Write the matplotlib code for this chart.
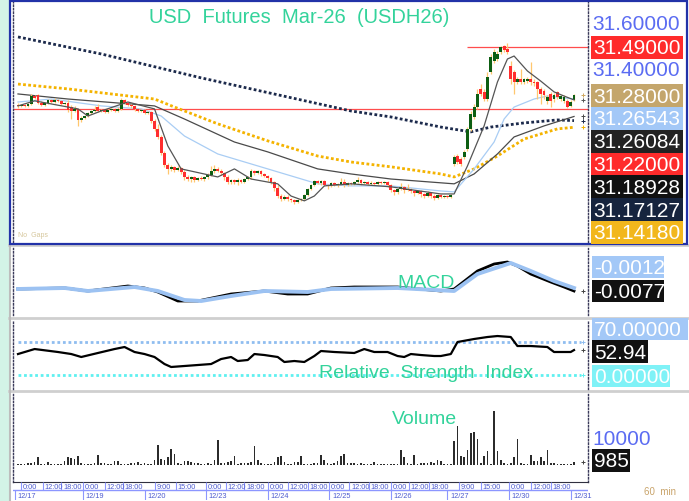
import matplotlib
matplotlib.use("Agg")
import matplotlib.pyplot as plt
from matplotlib.patches import Rectangle
import numpy as np

W, H, DPI = 689, 502, 100

# ---- hourly candles, prices in thousandths above 30.000 ----
opens_k = [1239, 1235, 1239, 1235, 1243, 1278, 1283, 1248, 1239, 1248,
           1261, 1252, 1261, 1257, 1243, 1248, 1230, 1213, 1222, 1174,
           1183, 1191, 1204, 1213, 1230, 1213, 1217, 1209, 1217, 1222,
           1213, 1222, 1261, 1248, 1239, 1235, 1222, 1213, 1217, 1204,
           1209, 1170, 1135, 1100, 1030, 978, 961, 970, 957, 965,
           948, 926, 917, 926, 913, 922, 917, 926, 935, 952,
           961, 952, 943, 926, 904, 913, 904, 913, 904, 917,
           926, 952, 943, 952, 939, 930, 922, 904, 878, 843,
           830, 839, 830, 826, 817, 826, 830, 848, 874, 891,
           909, 900, 909, 891, 887, 900, 891, 896, 904, 891,
           900, 896, 904, 913, 900, 904, 896, 900, 896, 904,
           900, 904, 891, 870, 861, 874, 883, 870, 874, 865,
           857, 865, 852, 843, 857, 843, 835, 848, 839, 843,
           839, 983, 1017, 1004, 1013, 1048, 1135, 1187, 1230, 1309,
           1296, 1265, 1383, 1430, 1439, 1470, 1496, 1483, 1409, 1383,
           1339, 1352, 1339, 1343, 1352, 1339, 1339, 1309, 1300, 1257,
           1287, 1265, 1296, 1265, 1257, 1257, 1235, 1261]
closes_k = [1235, 1239, 1235, 1243, 1278, 1270, 1248, 1239, 1248, 1261,
            1252, 1261, 1257, 1243, 1248, 1217, 1213, 1222, 1174, 1183,
            1191, 1204, 1213, 1217, 1213, 1217, 1209, 1217, 1222, 1213,
            1222, 1261, 1248, 1239, 1235, 1222, 1213, 1217, 1204, 1209,
            1170, 1135, 1100, 1030, 978, 961, 970, 957, 965, 948,
            926, 917, 926, 913, 922, 917, 926, 935, 952, 961,
            952, 943, 926, 904, 913, 904, 913, 904, 917, 926,
            952, 943, 952, 939, 930, 922, 904, 878, 843, 830,
            839, 830, 826, 817, 826, 830, 848, 874, 891, 909,
            900, 909, 891, 887, 900, 891, 896, 904, 891, 900,
            896, 904, 913, 900, 904, 896, 900, 896, 904, 900,
            904, 891, 870, 861, 874, 883, 870, 874, 865, 857,
            865, 852, 843, 857, 843, 835, 848, 839, 843, 839,
            848, 1013, 991, 983, 1035, 1135, 1200, 1230, 1287, 1287,
            1265, 1361, 1448, 1470, 1461, 1491, 1478, 1470, 1352, 1339,
            1352, 1339, 1352, 1352, 1339, 1335, 1309, 1287, 1283, 1274,
            1257, 1283, 1274, 1278, 1274, 1230, 1252, 1283]
highs_k = [1248, 1243, 1243, 1248, 1287, 1283, 1287, 1257, 1252, 1265,
           1265, 1270, 1265, 1261, 1252, 1261, 1239, 1235, 1226, 1191,
           1196, 1209, 1217, 1235, 1243, 1222, 1222, 1226, 1226, 1226,
           1230, 1270, 1265, 1252, 1243, 1239, 1226, 1222, 1222, 1213,
           1213, 1178, 1157, 1109, 1039, 987, 978, 974, 974, 970,
           957, 935, 930, 930, 926, 930, 930, 943, 974, 978,
           970, 961, 948, 935, 917, 917, 922, 917, 922, 930,
           961, 957, 957, 957, 943, 935, 926, 909, 891, 852,
           848, 848, 835, 830, 830, 835, 852, 878, 896, 913,
           913, 913, 913, 896, 904, 904, 900, 922, 917, 904,
           904, 909, 926, 917, 909, 909, 909, 904, 909, 909,
           909, 909, 896, 874, 878, 900, 887, 896, 878, 870,
           870, 870, 857, 865, 861, 852, 852, 852, 848, 848,
           852, 1022, 1026, 1013, 1043, 1143, 1213, 1243, 1309, 1330,
           1309, 1383, 1461, 1483, 1474, 1496, 1500, 1509, 1430, 1391,
           1361, 1396, 1357, 1361, 1426, 1352, 1343, 1317, 1309, 1283,
           1296, 1291, 1300, 1283, 1283, 1265, 1261, 1287]
lows_k = [1226, 1230, 1230, 1230, 1239, 1265, 1243, 1235, 1235, 1243,
          1248, 1248, 1252, 1239, 1239, 1209, 1178, 1209, 1148, 1165,
          1178, 1187, 1200, 1209, 1209, 1209, 1204, 1204, 1213, 1209,
          1209, 1217, 1243, 1235, 1226, 1213, 1209, 1209, 1200, 1200,
          1161, 1126, 1091, 1022, 970, 939, 952, 948, 952, 939,
          913, 909, 904, 904, 909, 913, 909, 917, 930, 943,
          948, 935, 913, 896, 896, 896, 891, 900, 900, 913,
          917, 935, 939, 930, 926, 909, 896, 865, 835, 822,
          826, 822, 817, 809, 813, 822, 826, 843, 870, 887,
          896, 891, 887, 874, 883, 887, 883, 891, 883, 887,
          891, 891, 900, 891, 896, 891, 891, 891, 891, 896,
          896, 883, 861, 848, 852, 870, 857, 865, 857, 843,
          852, 839, 835, 839, 835, 826, 830, 835, 835, 835,
          835, 974, 983, 974, 1004, 1039, 1126, 1178, 1222, 1278,
          1257, 1257, 1374, 1422, 1430, 1461, 1470, 1461, 1330, 1287,
          1330, 1330, 1330, 1335, 1326, 1322, 1265, 1243, 1265, 1243,
          1230, 1252, 1265, 1257, 1248, 1226, 1230, 1257]

volumes = [345, 345, 345, 575, 690, 920, 2645, 345, 345, 1035,
           460, 460, 345, 345, 1265, 2645, 2300, 2070, 3220, 575,
           345, 345, 345, 690, 3450, 575, 575, 345, 460, 1265,
           1265, 345, 345, 345, 805, 575, 920, 345, 575, 345,
           345, 1840, 6900, 2070, 1725, 2645, 5405, 3795, 575, 345,
           1495, 1495, 920, 575, 575, 345, 345, 575, 345, 1840,
           8625, 690, 690, 920, 1495, 3220, 345, 690, 690, 575,
           920, 6440, 1840, 690, 345, 345, 345, 920, 2645, 3220,
           920, 345, 345, 1150, 920, 2990, 345, 345, 345, 690,
           690, 3450, 1840, 690, 345, 690, 1495, 3220, 3795, 690,
           690, 690, 345, 690, 345, 345, 345, 1150, 345, 345,
           345, 345, 345, 345, 345, 5175, 2645, 690, 345, 3450,
           345, 690, 690, 690, 1150, 690, 1840, 1265, 345, 345,
           345, 8400, 13340, 3220, 2645, 5175, 11040, 11500, 8970, 690,
           3220, 4945, 345, 18745, 4715, 1840, 690, 345, 690, 2875,
           8970, 690, 345, 345, 3450, 1265, 1495, 2875, 1495, 5290,
           690, 690, 345, 345, 345, 345, 345, 985]

# ---- moving averages read at bar positions ----
ma_long_idx = [0, 25, 55, 85, 100, 112, 127, 136, 142, 152, 162, 167]
ma_long = [31.535, 31.461, 31.357, 31.261, 31.213, 31.187, 31.143, 31.122,
           31.143, 31.161, 31.174, 31.171]
ma_gold_idx = [0, 15, 41, 47, 60, 75, 90, 100, 112, 127, 131, 137, 144, 152, 162, 167]
ma_gold = [31.330, 31.309, 31.265, 31.230, 31.157, 31.083, 31.017, 30.991,
           30.970, 30.939, 30.926, 30.961, 31.017, 31.091, 31.135, 31.142]
ma_mid_idx = [0, 15, 41, 50, 65, 75, 90, 100, 112, 131, 137, 144, 149, 158, 167]
ma_mid = [31.287, 31.265, 31.235, 31.178, 31.078, 31.035, 30.961, 30.939,
          30.917, 30.896, 30.939, 31.026, 31.100, 31.148, 31.189]
ma_blue_idx = [0, 10, 25, 37, 43, 50, 60, 75, 90, 100, 112, 127, 131, 137,
               143, 146, 149, 155, 159, 167]
ma_blue = [31.252, 31.265, 31.235, 31.222, 31.191, 31.104, 31.026, 30.961,
           30.896, 30.887, 30.887, 30.865, 30.861, 30.961, 31.078, 31.178,
           31.230, 31.265, 31.278, 31.265]
ma_fast_idx = [0, 5, 18, 21, 25, 33, 41, 45, 49, 60, 65, 70, 78, 82, 86, 89,
               92, 100, 112, 127, 131, 135, 140, 144, 147, 149, 153, 157, 161,
               164, 167]
ma_fast = [31.235, 31.257, 31.222, 31.191, 31.213, 31.252, 31.222, 31.061,
           30.961, 30.926, 30.961, 30.917, 30.896, 30.843, 30.822, 30.843,
           30.887, 30.896, 30.883, 30.852, 30.852, 30.974, 31.148, 31.339,
           31.439, 31.452, 31.387, 31.343, 31.296, 31.278, 31.261]

support_level = 31.22
high_level = 31.49

macd_idx = [0, 14, 21, 33, 38, 42, 48, 54, 64, 74, 81, 87, 94, 101, 114, 127,
            131, 138, 143, 147, 150, 154, 160, 164, 167]
macd = [-0.0057, -0.0047, -0.0077, -0.0027, -0.0047, -0.0087, -0.0177, -0.0177,
        -0.0107, -0.0077, -0.0107, -0.0107, -0.0047, -0.0037, -0.0037, -0.0077,
        -0.0057, 0.0123, 0.0193, 0.0213, 0.0173, 0.0093, 0.0013, -0.0037, -0.0077]
signal_idx = [0, 14, 21, 35, 42, 50, 55, 64, 74, 87, 94, 114, 131, 138, 148, 154, 161, 167]
signal = [-0.0057, -0.0047, -0.0077, -0.0037, -0.0077, -0.0167, -0.0177, -0.0127,
          -0.0077, -0.0087, -0.0057, -0.0047, -0.0077, 0.0093, 0.0203, 0.0123,
          0.0023, -0.0047]

rsi_idx = [0, 5, 12, 16, 19, 24, 29, 32, 35, 38, 41, 44, 46, 50, 54, 58, 61, 64,
           66, 69, 71, 74, 78, 80, 83, 86, 89, 91, 95, 101, 104, 107, 111, 114,
           116, 118, 121, 125, 127, 130, 132, 137, 141, 144, 148, 150, 154, 159,
           161, 164, 166, 167]
rsi = [44.5, 55.1, 48.8, 44.5, 38.2, 46.7, 55.1, 59.4, 48.8, 44.5, 38.2, 23.3,
       17.0, 19.1, 21.2, 23.3, 33.9, 38.2, 29.7, 31.8, 44.5, 42.4, 38.2, 27.6,
       29.7, 27.6, 40.3, 50.9, 48.8, 46.7, 55.1, 48.8, 48.8, 40.3, 38.2, 44.5,
       42.4, 40.3, 40.3, 44.5, 70.0, 76.4, 80.6, 82.7, 80.6, 61.5, 61.5, 59.4,
       48.8, 48.8, 48.8, 52.9]
rsi_upper, rsi_lower = 70.0, 0.0

hour_pos = [1, 7.5, 13, 19.5, 26, 31.5, 41, 47.5, 56.5, 62.5, 68, 75, 81, 87,
            93.5, 99.5, 105.5, 112, 117.5, 123.5, 132.5, 139, 147.5, 154, 160]
hour_labels = ["0:00", "12:00", "18:00", "0:00", "12:00", "18:00", "9:00", "15:00",
               "0:00", "12:00", "18:00", "0:00", "12:00", "18:00", "0:00", "12:00",
               "18:00", "0:00", "12:00", "18:00", "9:00", "15:00", "0:00", "12:00",
               "18:00"]
date_pos = [-1, 19.5, 38, 56.5, 75, 93.5, 112, 129, 147.5, 166]
date_labels = ["12/17", "12/19", "12/20", "12/23", "12/24", "12/25", "12/26",
               "12/27", "12/30", "12/31"]

price_labels = ["31.49000", "31.28000", "31.26543", "31.26084", "31.22000",
                "31.18928", "31.17127", "31.14180"]
price_label_bg = ["#ff2b2b", "#c4a66c", "#a3c8f7", "#222222", "#ff2b2b",
                  "#111111", "#16243e", "#f2b71c"]

# ---- colours ----
GREEN, RED, WICK = "#0d5e12", "#ff2e2e", "#ffc76e"
TEAL = "#33d39b"
BLUE_TXT = "#5b6cf2"
AXIS = "#3a3a5a"

opens = 30 + np.array(opens_k) / 1000
closes = 30 + np.array(closes_k) / 1000
highs = 30 + np.array(highs_k) / 1000
lows = 30 + np.array(lows_k) / 1000
idx = np.arange(len(closes))
XLIM = (-1.5, 171.2)

plt.rcParams["font.family"] = ["Liberation Sans", "DejaVu Sans"]
fig = plt.figure(figsize=(W / DPI, H / DPI), dpi=DPI)
fig.patch.set_facecolor("white")


def px_axes(left, top, right, bottom, **kw):
    return fig.add_axes([left / W, 1 - bottom / H, (right - left) / W,
                         (bottom - top) / H], **kw)


def style(ax):
    ax.set_xlim(*XLIM)
    ax.set_xticks([])
    for s in ("top", "bottom"):
        ax.spines[s].set_visible(False)
    for s in ("left", "right"):
        ax.spines[s].set_color(AXIS)
        ax.spines[s].set_linestyle((0, (1, 1.5)))
        ax.spines[s].set_linewidth(1.0)
    ax.yaxis.tick_right()
    ax.tick_params(axis="y", length=0, pad=3, labelsize=15, labelcolor=BLUE_TXT)


def end_marks(a, values, colors):
    # small "+" markers the platform draws at the right edge
    a.scatter([169.8] * len(values), values, marker="+", s=9, lw=0.7,
              c=colors, zorder=6, clip_on=False)


# background decoration
deco = fig.add_axes([0, 0, 1, 1], zorder=-5)
deco.set_xlim(0, W)
deco.set_ylim(H, 0)
deco.axis("off")
deco.add_patch(Rectangle((0, 0), 9, H, color="#d3f3e7", lw=0))
for yy in (246, 318.5, 392):
    deco.plot([9, W], [yy, yy], color="#cfcfcf", lw=2)
deco.plot([10, 10], [246, H], color="#bdbdbd", lw=1.5)

# ---- price panel ----
ax = px_axes(13, 3, 588, 243)
style(ax)
ax.set_ylim(30.643, 31.687)
ax.set_yticks([31.6, 31.4])
ax.set_yticklabels(["31.60000", "31.40000"])
ax.plot(ma_long_idx, ma_long, color="#1c2a4c", lw=2.0, ls=(0, (1, 0.85)), zorder=2)
ax.plot(ma_gold_idx, ma_gold, color="#f4b300", lw=2.0, ls=(0, (1, 0.85)), zorder=2)
ax.plot(ma_mid_idx, ma_mid, color="#4a4a4a", lw=0.9, zorder=2)
ax.plot(ma_blue_idx, ma_blue, color="#a9cdf4", lw=0.9, zorder=2)
ax.plot(ma_fast_idx, ma_fast, color="#555555", lw=0.9, zorder=5)
ax.axhline(support_level, color="#ff4d4d", lw=0.9, zorder=1)
ax.hlines(high_level, 135, XLIM[1], color="#ff4d4d", lw=0.9, zorder=1)
ax.vlines(idx, lows, highs, color=WICK, lw=0.9, zorder=3)
body = closes - opens
body = np.where(np.abs(body) < 0.003, np.where(body >= 0, 0.003, -0.003), body)
ax.bar(idx, body, bottom=opens, width=0.85, lw=0,
       color=np.where(closes >= opens, GREEN, RED), zorder=4)
end_marks(ax, [closes[-1], ma_fast[-1], ma_long[-1], ma_mid[-1], ma_gold[-1]],
          ["#d0a860", "#555555", "#1c2a4c", "#4a4a4a", "#f4b300"])
ax.text(0.497, 0.94, "USD  Futures  Mar-26  (USDH26)", transform=ax.transAxes,
        ha="center", va="center", fontsize=14.5, color=TEAL)
ax.text(0.009, 0.018, "No  Gaps", transform=ax.transAxes, fontsize=5,
        color="#d6c79c", va="bottom")

# ---- MACD panel ----
axm = px_axes(13, 249, 588, 316)
style(axm)
axm.set_ylim(-0.0317, 0.0353)
axm.set_yticks([])
axm.plot(macd_idx, macd, color="black", lw=2.0, zorder=2)
axm.plot(signal_idx, signal, color="#9cc2f2", lw=2.8, zorder=3)
end_marks(axm, [macd[-1]], ["#444444"])
axm.text(0.718, 0.49, "MACD", transform=axm.transAxes, ha="center", va="center",
         fontsize=14, color=TEAL, zorder=4)

# ---- RSI panel ----
axr = px_axes(13, 321, 588, 390)
style(axr)
axr.set_ylim(-29.7, 116.7)
axr.set_yticks([])
axr.plot([0, 169], [rsi_upper] * 2, color="#8fbdf0", lw=2.0, ls=(0, (1, 1)))
axr.plot([0, 169], [rsi_lower] * 2, color="#5ff0f0", lw=2.0, ls=(0, (1, 1)))
axr.plot(rsi_idx, rsi, color="black", lw=1.6, zorder=3)
end_marks(axr, [rsi_upper, rsi[-1], rsi_lower], ["#8fbdf0", "#444444", "#5ff0f0"])
axr.text(0.718, 0.246, "Relative  Strength  Index", transform=axr.transAxes,
         ha="center", va="center", fontsize=14, color=TEAL, zorder=4)

# ---- volume panel ----
axv = px_axes(13, 395, 588, 483)
style(axv)
axv.spines["bottom"].set_visible(True)
axv.spines["bottom"].set_color("#303040")
axv.set_ylim(-5865, 24495)
axv.set_yticks([10000])
axv.set_yticklabels(["10000"])
axv.bar(idx, volumes, width=0.5, color="#2b2b2b", lw=0)
end_marks(axv, [volumes[-1]], ["#444444"])
axv.text(0.716, 0.716, "Volume", transform=axv.transAxes, ha="center",
         va="center", fontsize=14, color=TEAL)

# ---- time axis ----
axt = px_axes(13, 483, 588, 501)
axt.set_xlim(*XLIM)
axt.set_ylim(18, 0)
axt.axis("off")
axt.plot([XLIM[0], XLIM[1]], [8, 8], color="#8c96ff", lw=1)
axt.vlines(hour_pos, 0, 8, color="#8c96ff", lw=0.8)
axt.vlines(date_pos, 8, 18, color="#8c96ff", lw=0.8)
for p, lab in zip(hour_pos, hour_labels):
    axt.text(p + 0.5, 4.3, lab, fontsize=5.3, color="#4d5bd0", va="center")
for p, lab in zip(date_pos, date_labels):
    axt.text(p + 0.8, 13.3, lab, fontsize=5.3, color="#4d5bd0", va="center")

# ---- overlay: border and value boxes ----
top = fig.add_axes([0, 0, 1, 1], zorder=10)
top.set_xlim(0, W)
top.set_ylim(H, 0)
top.axis("off")
top.add_patch(Rectangle((9.5, 1.5), 677, 243, fill=False, ec="#2232a8", lw=1.6))


def y_px(a, v):
    return H - a.transData.transform((0, v))[1]


def value_box(x0, width, yc, text, bg, fg="white", h=22.8):
    top.add_patch(Rectangle((x0, yc - h / 2), width, h, color=bg, lw=0))
    top.text(x0 + 2, yc + 0.5, text, fontsize=15, color=fg, va="center", ha="left")


# stacked price labels, pushed down when they would overlap
vals = [float(t) for t in price_labels]
prev = -100
for text, v, bg in zip(price_labels, vals, price_label_bg):
    yc = max(y_px(ax, v), prev + 22.8)
    value_box(591, 92, yc, text, bg)
    prev = yc

m_end = y_px(axm, macd[-1])
value_box(592, 72, m_end, "-0.0077", "#111111")
value_box(592, 72, m_end - 24, "-0.0012", "#a3c8f7")

r_end = y_px(axr, rsi[-1])
value_box(592, 56, r_end + 1.5, "52.94", "#111111")
value_box(592, 96, r_end - 21, "70.00000", "#a3c8f7")
value_box(592, 78, y_px(axr, rsi_lower) + 1, "0.00000", "#7ff2f7")

value_box(592, 38, y_px(axv, volumes[-1]) - 2, "985", "#111111")

fig.text(660 / W, 1 - 492 / H, "60  min", fontsize=7, color="#c9a46b",
         ha="center", va="center")

fig.savefig("out.png", dpi=DPI)
